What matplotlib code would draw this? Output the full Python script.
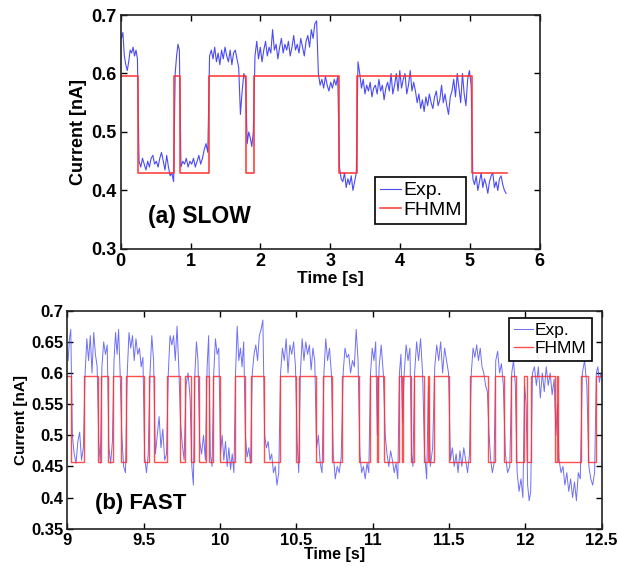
import numpy as np
import matplotlib
matplotlib.use("Agg")
import matplotlib.pyplot as plt

plt.rcParams["font.family"] = ["Liberation Sans", "DejaVu Sans"]

OUTPUT_PATH = "out.png"

# FHMM levels (nA)
HIGH_LEVEL = 0.595
LOW_LEVEL_SLOW = 0.43
LOW_LEVEL_FAST = 0.457

# ---- (a) SLOW: switching times of the fitted state path, first dwell is high
SLOW_SWITCH_T = [0.0, 0.25, 0.77, 0.85, 1.26, 1.80, 1.91, 3.12, 3.385, 5.03, 5.53]

# measured current, one list per dwell
SLOW_EXP = [
    [0.66, 0.67, 0.63, 0.615, 0.605, 0.62, 0.64, 0.635, 0.645, 0.63, 0.64, 0.625],
    [0.45, 0.44, 0.455, 0.445, 0.435, 0.45, 0.44, 0.455, 0.46, 0.445, 0.45,
     0.44, 0.455, 0.465, 0.45, 0.435, 0.46, 0.44, 0.425, 0.43, 0.415],
    [0.6, 0.63, 0.65, 0.64],
    [0.44, 0.45, 0.445, 0.455, 0.44, 0.45, 0.445, 0.455, 0.44, 0.45, 0.46,
     0.445, 0.455, 0.47, 0.48, 0.465],
    [0.63, 0.64, 0.625, 0.645, 0.62, 0.635, 0.615, 0.64, 0.625, 0.645, 0.63,
     0.62, 0.64, 0.615, 0.635, 0.64, 0.625, 0.61, 0.53, 0.57, 0.6, 0.59],
    [0.48, 0.5, 0.49, 0.475, 0.5],
    [0.63, 0.655, 0.625, 0.645, 0.62, 0.64, 0.655, 0.63, 0.645, 0.635, 0.675,
     0.64, 0.65, 0.625, 0.645, 0.66, 0.635, 0.65, 0.64, 0.655, 0.63, 0.645,
     0.665, 0.64, 0.65, 0.635, 0.66, 0.645, 0.63, 0.655, 0.665, 0.645, 0.675,
     0.66, 0.685, 0.69, 0.6, 0.58, 0.59, 0.575, 0.595, 0.58, 0.57, 0.585,
     0.575, 0.59, 0.58, 0.595],
    [0.44, 0.42, 0.415, 0.43, 0.405, 0.42, 0.41, 0.425, 0.4, 0.415, 0.43],
    [0.62, 0.6, 0.575, 0.59, 0.565, 0.58, 0.57, 0.585, 0.56, 0.575, 0.58,
     0.565, 0.59, 0.57, 0.58, 0.555, 0.575, 0.585, 0.57, 0.6, 0.565, 0.58,
     0.6, 0.57, 0.605, 0.575, 0.59, 0.6, 0.565, 0.58, 0.605, 0.57, 0.585,
     0.57, 0.55, 0.565, 0.54, 0.555, 0.535, 0.56, 0.545, 0.565, 0.55, 0.54,
     0.56, 0.57, 0.545, 0.555, 0.58, 0.55, 0.565, 0.545, 0.53, 0.56, 0.57,
     0.59, 0.56, 0.6, 0.575, 0.55, 0.6, 0.565, 0.545, 0.59, 0.605, 0.58],
    [0.42, 0.41, 0.425, 0.4, 0.415, 0.43, 0.405, 0.42, 0.41, 0.395, 0.415,
     0.425, 0.43, 0.405, 0.415, 0.4, 0.42, 0.425, 0.41, 0.4, 0.395],
]

SLOW_XTICKS = [0, 1, 2, 3, 4, 5, 6]
SLOW_YTICKS = [0.3, 0.4, 0.5, 0.6, 0.7]
SLOW_YTICK_LABELS = ["0.3", "0.4", "0.5", "0.6", "0.7"]

# ---- (b) FAST
FAST_SWITCH_T = [
    9.0, 9.026, 9.11, 9.20, 9.22, 9.266, 9.30, 9.35, 9.386, 9.50, 9.535,
    9.57, 9.655, 9.735, 9.77, 9.81, 9.83, 9.86, 9.91, 9.93, 9.953, 9.997,
    10.096, 10.16, 10.205, 10.286, 10.39, 10.50, 10.52, 10.626, 10.674,
    10.735, 10.80, 10.91, 10.98, 11.025, 11.035, 11.076, 11.17, 11.19, 11.20,
    11.25, 11.268, 11.333, 11.36, 11.37, 11.40, 11.503, 11.64, 11.757, 11.80,
    11.862, 11.905, 11.94, 11.99, 12.01, 12.04, 12.195, 12.205, 12.215,
    12.366, 12.41, 12.46, 12.5,
]

FAST_EXP = [
    [0.62, 0.655, 0.67],
    [0.5, 0.47, 0.455, 0.49, 0.505, 0.46, 0.48],
    [0.6, 0.655, 0.62, 0.66, 0.6, 0.665, 0.63, 0.61],
    [0.49, 0.455],
    [0.61, 0.65, 0.63, 0.645],
    [0.48, 0.455, 0.49],
    [0.62, 0.665, 0.63, 0.67, 0.6],
    [0.5, 0.45, 0.44],
    [0.6, 0.665, 0.64, 0.66, 0.62, 0.655, 0.63, 0.64, 0.61, 0.625],
    [0.465, 0.44, 0.47],
    [0.6, 0.66, 0.62],
    [0.47, 0.5, 0.53, 0.48, 0.51, 0.46, 0.47],
    [0.6, 0.66, 0.645, 0.66, 0.62, 0.675, 0.61],
    [0.52, 0.485, 0.46],
    [0.58, 0.6, 0.56],
    [0.45, 0.42],
    [0.6, 0.65, 0.62],
    [0.49, 0.47, 0.5, 0.46],
    [0.61, 0.66],
    [0.47, 0.45],
    [0.6, 0.655, 0.63, 0.64],
    [0.47, 0.5, 0.46, 0.49, 0.45, 0.48, 0.445, 0.47, 0.44],
    [0.6, 0.675, 0.62, 0.64, 0.61, 0.65],
    [0.5, 0.465, 0.48, 0.455],
    [0.6, 0.63, 0.645, 0.62, 0.66, 0.67, 0.685],
    [0.5, 0.48, 0.49, 0.46, 0.47, 0.44, 0.45, 0.42, 0.44],
    [0.6, 0.64, 0.62, 0.655, 0.6, 0.645, 0.63, 0.65, 0.61],
    [0.49, 0.44],
    [0.6, 0.655, 0.62, 0.65, 0.63, 0.645, 0.605, 0.64, 0.62],
    [0.48, 0.5, 0.455, 0.44],
    [0.6, 0.655, 0.62, 0.64, 0.6],
    [0.47, 0.43, 0.45, 0.44, 0.465],
    [0.6, 0.64, 0.625, 0.63, 0.6, 0.62, 0.61, 0.67, 0.62],
    [0.47, 0.44, 0.45, 0.43, 0.455, 0.44],
    [0.6, 0.64, 0.62, 0.65],
    [0.5],
    [0.61, 0.645, 0.6],
    [0.5, 0.47, 0.45, 0.475, 0.46, 0.44, 0.455, 0.43],
    [0.6, 0.63],
    [0.52],
    [0.6, 0.645, 0.62, 0.64],
    [0.47, 0.45],
    [0.6, 0.65, 0.62, 0.655, 0.6],
    [0.47, 0.43],
    [0.58],
    [0.45, 0.48],
    [0.61, 0.645, 0.62, 0.65, 0.6, 0.64, 0.62, 0.6],
    [0.46, 0.48, 0.45, 0.47, 0.44, 0.475, 0.45, 0.48, 0.46, 0.44, 0.47],
    [0.6, 0.64, 0.625, 0.645, 0.62, 0.64, 0.61, 0.6, 0.58, 0.57],
    [0.5, 0.46, 0.44, 0.455],
    [0.62, 0.635, 0.6, 0.615, 0.58],
    [0.47, 0.44, 0.45],
    [0.6, 0.62, 0.58],
    [0.44, 0.41, 0.43, 0.4],
    [0.58, 0.55],
    [0.42, 0.395, 0.41],
    [0.6, 0.61, 0.58, 0.61, 0.56, 0.6, 0.57, 0.61, 0.58, 0.6, 0.565, 0.59],
    [0.5],
    [0.55],
    [0.46, 0.44, 0.45, 0.42, 0.44, 0.41, 0.43, 0.4, 0.425, 0.395, 0.44, 0.43],
    [0.6, 0.62, 0.58],
    [0.45, 0.43, 0.42, 0.44],
    [0.6, 0.61, 0.585, 0.6],
]

FAST_XTICKS = [9, 9.5, 10, 10.5, 11, 11.5, 12, 12.5]
FAST_XTICK_LABELS = ["9", "9.5", "10", "10.5", "11", "11.5", "12", "12.5"]
FAST_YTICKS = [0.35, 0.4, 0.45, 0.5, 0.55, 0.6, 0.65, 0.7]
FAST_YTICK_LABELS = ["0.35", "0.4", "0.45", "0.5", "0.55", "0.6", "0.65", "0.7"]

EXP_COLOR = "#4b4bf5"
FHMM_COLOR = "#ff3030"


def state_path(switch_t, high, low):
    # step path alternating high/low between switching times
    xs = []
    ys = []
    for i in range(len(switch_t) - 1):
        level = high if i % 2 == 0 else low
        xs += [switch_t[i], switch_t[i + 1]]
        ys += [level, level]
    return xs, ys


def exp_trace(switch_t, dwell_values):
    # samples spread evenly over each dwell
    xs = []
    ys = []
    for i, vals in enumerate(dwell_values):
        t0 = switch_t[i]
        t1 = switch_t[i + 1]
        n = len(vals)
        for k, v in enumerate(vals):
            xs.append(t0 + (k + 0.5) * (t1 - t0) / n)
            ys.append(v)
    return xs, ys


def style_axes(ax, size):
    ax.tick_params(direction="in", top=True, right=True, length=4,
                   width=1.0, labelsize=size, pad=3)
    for label in ax.get_xticklabels() + ax.get_yticklabels():
        label.set_fontweight("bold")
    for spine in ax.spines.values():
        spine.set_linewidth(1.2)
        spine.set_color("#222222")


def boxed_legend(ax, **kwargs):
    leg = ax.legend(borderaxespad=0, handlelength=1.1, handletextpad=0.1,
                    fancybox=False, framealpha=1, **kwargs)
    leg.get_frame().set_edgecolor("black")
    leg.get_frame().set_linewidth(1.2)
    return leg


fig = plt.figure(figsize=(6.19, 5.67), dpi=100)

# (a) SLOW
ax1 = fig.add_axes([0.195, 0.561, 0.677, 0.4125])
ex, ey = exp_trace(SLOW_SWITCH_T, SLOW_EXP)
sx, sy = state_path(SLOW_SWITCH_T, HIGH_LEVEL, LOW_LEVEL_SLOW)
ax1.plot(ex, ey, color=EXP_COLOR, linewidth=0.8, label="Exp.")
ax1.plot(sx, sy, color=FHMM_COLOR, linewidth=1.1, label="FHMM")
ax1.set_xlim(0, 6)
ax1.set_ylim(0.3, 0.7)
ax1.set_xticks(SLOW_XTICKS)
ax1.set_xticklabels([str(v) for v in SLOW_XTICKS])
ax1.set_yticks(SLOW_YTICKS)
ax1.set_yticklabels(SLOW_YTICK_LABELS)
style_axes(ax1, 13)
ax1.set_xlabel("Time [s]", fontsize=12.5, fontweight="bold", labelpad=1)
ax1.set_ylabel("Current [nA]", fontsize=13, fontweight="bold", labelpad=3)
ax1.text(0.39, 0.356, "(a) SLOW", fontsize=16.5, fontweight="bold",
         va="center", ha="left")
boxed_legend(ax1, loc="upper left", bbox_to_anchor=(0.6065, 0.3077),
             fontsize=14, borderpad=0.25, labelspacing=0.1)

# (b) FAST
ax2 = fig.add_axes([0.109, 0.0675, 0.863, 0.3845])
ex, ey = exp_trace(FAST_SWITCH_T, FAST_EXP)
sx, sy = state_path(FAST_SWITCH_T, HIGH_LEVEL, LOW_LEVEL_FAST)
ax2.plot(ex, ey, color=EXP_COLOR, linewidth=0.7, alpha=0.8, label="Exp.")
ax2.plot(sx, sy, color=FHMM_COLOR, linewidth=1.0, alpha=0.85, label="FHMM")
ax2.set_xlim(9, 12.5)
ax2.set_ylim(0.35, 0.7)
ax2.set_xticks(FAST_XTICKS)
ax2.set_xticklabels(FAST_XTICK_LABELS)
ax2.set_yticks(FAST_YTICKS)
ax2.set_yticklabels(FAST_YTICK_LABELS)
style_axes(ax2, 12)
ax2.set_xlabel("Time [s]", fontsize=11.5, fontweight="bold", labelpad=-1)
ax2.set_ylabel("Current [nA]", fontsize=11, fontweight="bold", labelpad=2)
ax2.text(9.18, 0.39, "(b) FAST", fontsize=16, fontweight="bold",
         va="center", ha="left")
boxed_legend(ax2, loc="upper right", bbox_to_anchor=(0.982, 0.9665),
             fontsize=12.5, borderpad=0.3, labelspacing=0.15)

fig.savefig(OUTPUT_PATH, dpi=100)
plt.close(fig)
